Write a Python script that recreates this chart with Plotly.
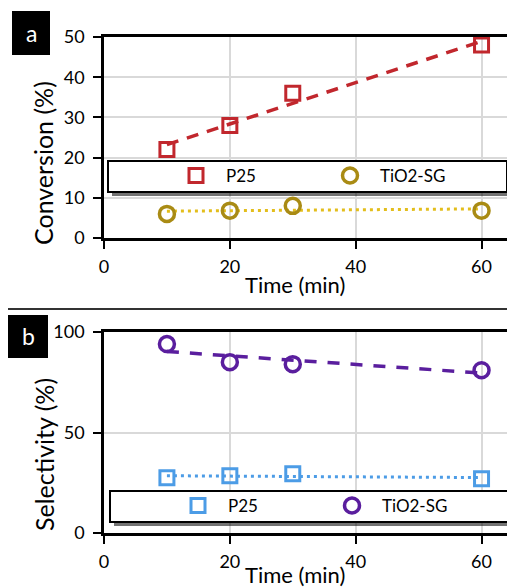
import numpy as np
import plotly.graph_objects as go

# page is drawn with an 8px body margin; lay the figure out in screen pixels
OFF = 8
W, H = 515 - OFF, 588 - OFF

time_min = [10, 20, 30, 60]
conv_p25 = [22, 28, 36, 48]
conv_tio2 = [6.0, 6.8, 8.0, 6.8]
sel_p25 = [27.5, 28.5, 29.5, 27.0]
sel_tio2 = [94, 85, 84, 81]

x_ticks = [0, 20, 40, 60]
conv_ticks = [0, 10, 20, 30, 40, 50]
sel_ticks = [0, 50, 100]

RED = "#C1272D"
GOLD_MK = "#A98B14"
GOLD_LN = "#E3BE1C"
BLUE = "#4C9CE6"
PURPLE = "#5A1E9E"
FONT = "Lato"


def px(x):
    return (x - OFF) / W


def py(y):
    return 1 - (y - OFF) / H


def trend(xs, ys):
    k, b = np.polyfit(xs, ys, 1)
    xe = [min(xs), max(xs)]
    return xe, [k * v + b for v in xe]


fig = go.Figure()

# ---- panel a ----
tx, ty = trend(time_min, conv_p25)
fig.add_trace(go.Scatter(x=tx, y=ty, mode="lines", showlegend=False,
                         line=dict(color=RED, width=3.5, dash="12px,9px"), xaxis="x", yaxis="y"))
tx, ty = trend(time_min, conv_tio2)
fig.add_trace(go.Scatter(x=tx, y=ty, mode="lines", showlegend=False,
                         line=dict(color=GOLD_LN, width=3, dash="3px,4px"), xaxis="x", yaxis="y"))
fig.add_trace(go.Scatter(x=time_min, y=conv_p25, mode="markers", name="P25", legend="legend",
                         marker=dict(symbol="square-open", size=14, color=RED, line=dict(width=3, color=RED)),
                         xaxis="x", yaxis="y"))
fig.add_trace(go.Scatter(x=time_min, y=conv_tio2, mode="markers", name="TiO2-SG", legend="legend",
                         marker=dict(symbol="circle-open", size=15, color=GOLD_MK, line=dict(width=3.5, color=GOLD_MK)),
                         xaxis="x", yaxis="y"))

# ---- panel b ----
tx, ty = trend(time_min, sel_tio2)
fig.add_trace(go.Scatter(x=tx, y=ty, mode="lines", showlegend=False,
                         line=dict(color=PURPLE, width=3.5, dash="12px,11px"), xaxis="x2", yaxis="y2"))
tx, ty = trend(time_min, sel_p25)
fig.add_trace(go.Scatter(x=tx, y=ty, mode="lines", showlegend=False,
                         line=dict(color=BLUE, width=3, dash="3px,4px"), xaxis="x2", yaxis="y2"))
fig.add_trace(go.Scatter(x=time_min, y=sel_p25, mode="markers", name="P25", legend="legend2",
                         marker=dict(symbol="square-open", size=14, color=BLUE, line=dict(width=3, color=BLUE)),
                         xaxis="x2", yaxis="y2"))
fig.add_trace(go.Scatter(x=time_min, y=sel_tio2, mode="markers", name="TiO2-SG", legend="legend2",
                         marker=dict(symbol="circle-open", size=15, color=PURPLE, line=dict(width=3.5, color=PURPLE)),
                         xaxis="x2", yaxis="y2"))

xdom = [px(104), px(513)]
axis_common = dict(showline=True, linecolor="black", linewidth=2.5, mirror=True, automargin=False,
                   showgrid=True, gridcolor="#d9d9d9", gridwidth=1.5, zeroline=False,
                   ticks="outside", ticklen=8, tickwidth=2, tickcolor="black",
                   tickfont=dict(family=FONT, size=18, color="black"))

fig.update_layout(
    width=W, height=H, margin=dict(l=0, r=0, t=0, b=0, autoexpand=False),
    paper_bgcolor="white", plot_bgcolor="white",
    font=dict(family=FONT, color="black"),
    xaxis=dict(domain=xdom, range=[0, 65], tickvals=x_ticks, anchor="y", ticklabelstandoff=3, **axis_common),
    yaxis=dict(domain=[py(238), py(37)], range=[0, 50], tickvals=conv_ticks, anchor="x", ticklabelstandoff=5, **axis_common),
    xaxis2=dict(domain=xdom, range=[0, 65], tickvals=x_ticks, anchor="y2", ticklabelstandoff=3, **axis_common),
    yaxis2=dict(domain=[py(533), py(332)], range=[0, 100], tickvals=sel_ticks, anchor="x2", ticklabelstandoff=5, **axis_common),
    legend=dict(orientation="h", x=px(166), y=py(176), xanchor="left", yanchor="middle",
                bgcolor="rgba(0,0,0,0)", borderwidth=0, itemwidth=50, entrywidth=89,
                font=dict(family=FONT, size=17, color="black")),
    legend2=dict(orientation="h", x=px(168), y=py(506), xanchor="left", yanchor="middle",
                 bgcolor="rgba(0,0,0,0)", borderwidth=0, itemwidth=50, entrywidth=89,
                 font=dict(family=FONT, size=17, color="black")),
)

shapes = []
# legend boxes with shadow
for (x0, y0, x1, y1) in [(108, 161, 507, 192), (110, 491, 508, 522)]:
    shapes.append(dict(type="rect", xref="paper", yref="paper", x0=px(x0 + 4), x1=px(x1 + 4),
                       y0=py(y1 + 4), y1=py(y0 + 4), fillcolor="rgba(0,0,0,0.55)", line=dict(width=0),
                       layer="above"))
    shapes.append(dict(type="rect", xref="paper", yref="paper", x0=px(x0), x1=px(x1),
                       y0=py(y1), y1=py(y0), fillcolor="white", line=dict(color="black", width=2),
                       layer="above"))
# panel labels
shapes.append(dict(type="rect", xref="paper", yref="paper", x0=px(12), x1=px(50), y0=py(55), y1=py(11),
                   fillcolor="black", line=dict(width=0)))
shapes.append(dict(type="rect", xref="paper", yref="paper", x0=px(8), x1=px(48), y0=py(358), y1=py(315),
                   fillcolor="black", line=dict(width=0)))
# separator
shapes.append(dict(type="line", xref="paper", yref="paper", x0=px(8), x1=1, y0=py(309), y1=py(309),
                   line=dict(color="#333333", width=2)))
fig.update_layout(shapes=shapes)

annotations = [
    dict(text="a", x=px(31), y=py(33), font=dict(family=FONT, size=23, color="white")),
    dict(text="b", x=px(28), y=py(336), font=dict(family=FONT, size=23, color="white")),
    dict(text="Time (min)", x=px(295), y=py(284), font=dict(family=FONT, size=22, color="black")),
    dict(text="Time (min)", x=px(295), y=py(574), font=dict(family=FONT, size=22, color="black")),
    dict(text="Conversion (%)", x=px(43), y=py(163), textangle=-90, font=dict(family=FONT, size=25, color="black")),
    dict(text="Selectivity (%)", x=px(44), y=py(455), textangle=-90, font=dict(family=FONT, size=25, color="black")),
]
for a in annotations:
    a.update(xref="paper", yref="paper", showarrow=False, xanchor="center", yanchor="middle")
fig.update_layout(annotations=annotations)

fig.write_html("out.html")
